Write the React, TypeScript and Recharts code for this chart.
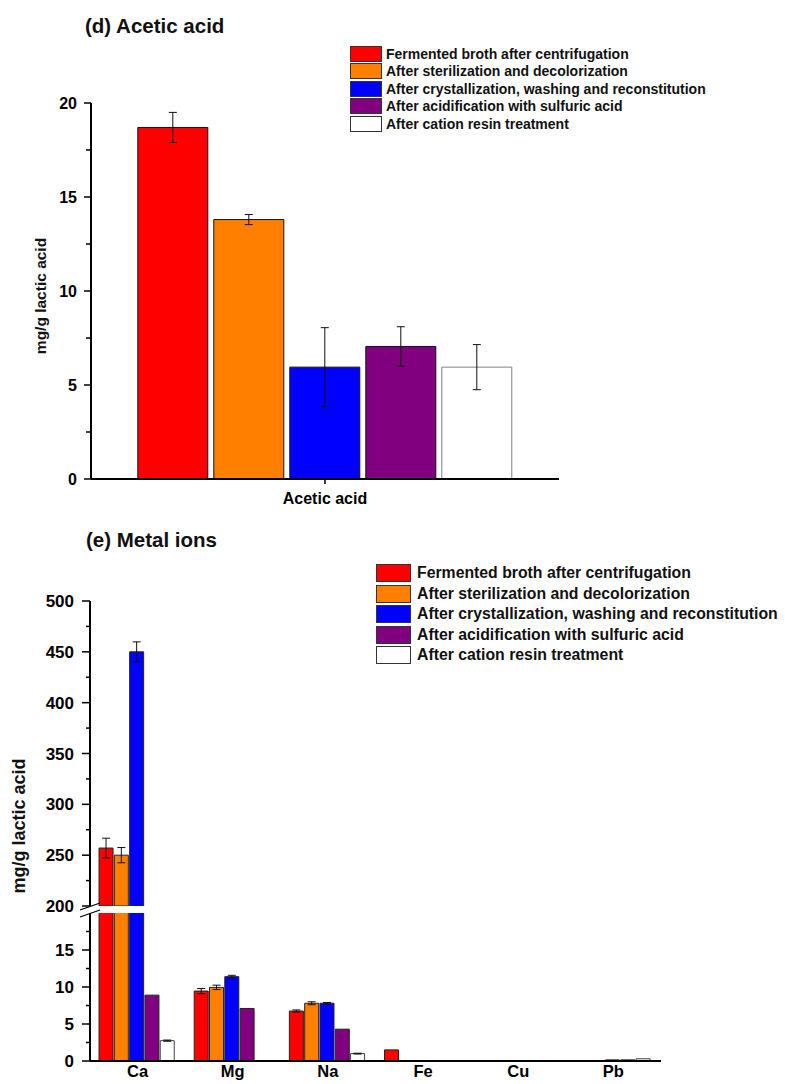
import { Bar, BarChart, ErrorBar, XAxis, YAxis } from "recharts";

// 精製工程ごとの不純物量（酢酸・金属イオン）
// 工程の順番と色は固定

const FONT = '"Liberation Sans", Arial, Helvetica, sans-serif';
const INK = "#000";

const STEPS = [
  "Fermented broth after centrifugation",
  "After sterilization and decolorization",
  "After crystallization, washing and reconstitution",
  "After acidification with sulfuric acid",
  "After cation resin treatment",
];
const FILLS = ["#ff0000", "#ff8000", "#0000ff", "#800080", "#ffffff"];

// ── (d) Acetic acid ──
const ACETIC_CATEGORY = ["Acetic acid"];
const ACETIC_MEAN = [18.7, 13.8, 5.95, 7.05, 5.95];
const ACETIC_SD = [0.8, 0.27, 2.1, 1.05, 1.2];
const ACETIC_TICKS = [0, 2.5, 5, 7.5, 10, 12.5, 15, 17.5, 20];

// ── (e) Metal ions ──
const IONS = ["Ca", "Mg", "Na", "Fe", "Cu", "Pb"];
const BROTH = [257, 9.45, 6.75, 1.5, 0, 0];
const BROTH_SD = [9.7, 0.35, 0.15, 0, 0, 0];
const STERILIZED = [250, 9.95, 7.8, 0, 0, 0];
const STERILIZED_SD = [7.5, 0.3, 0.2, 0, 0, 0];
const CRYSTALLIZED = [450, 11.4, 7.8, 0, 0, 0.15];
const CRYSTALLIZED_SD = [9.8, 0.18, 0.1, 0, 0, 0];
const ACIDIFIED = [8.9, 7.1, 4.3, 0, 0, 0.15];
const ACIDIFIED_SD = [0, 0, 0, 0, 0, 0];
const RESIN = [2.75, 0, 1.0, 0, 0, 0.3];
const RESIN_SD = [0.08, 0, 0.05, 0, 0, 0];

const ION_MEANS = [BROTH, STERILIZED, CRYSTALLIZED, ACIDIFIED, RESIN];
const ION_SDS = [BROTH_SD, STERILIZED_SD, CRYSTALLIZED_SD, ACIDIFIED_SD, RESIN_SD];

// 軸の切れ目（下段 0–20、上段 200–500）
const LOW_DOMAIN: [number, number] = [0, 20];
const HIGH_DOMAIN: [number, number] = [200, 500];
const LOW_TICKS = [0, 2.5, 5, 7.5, 10, 12.5, 15, 17.5];
const HIGH_TICKS = [200, 225, 250, 275, 300, 325, 350, 375, 400, 425, 450, 475, 500];

const aceticRows = ACETIC_CATEGORY.map((name) => {
  const row: Record<string, string | number> = { name };
  ACETIC_MEAN.forEach((v, i) => {
    row[`s${i}`] = v;
    row[`e${i}`] = ACETIC_SD[i];
  });
  return row;
});

const highRows = IONS.map((ion, j) => {
  const row: Record<string, string | number | null> = { ion };
  ION_MEANS.forEach((arr, i) => {
    const v = arr[j];
    row[`s${i}`] = v >= HIGH_DOMAIN[0] ? v : null;
    row[`e${i}`] = v >= HIGH_DOMAIN[0] ? ION_SDS[i][j] : 0;
  });
  return row;
});

const lowRows = IONS.map((ion, j) => {
  const row: Record<string, string | number | null> = { ion };
  ION_MEANS.forEach((arr, i) => {
    const v = arr[j];
    row[`s${i}`] = v;
    row[`e${i}`] = v <= LOW_DOMAIN[1] ? ION_SDS[i][j] : 0;
  });
  return row;
});

// 主目盛りにだけ数値を付ける Y 軸の目盛り
function makeYTick(step: number, fontSize: number, gap: number, major: number, minor: number) {
  return (props: any) => {
    const { x, y, payload } = props;
    const v = Number(payload.value);
    const isMajor = Math.abs(v / step - Math.round(v / step)) < 1e-6;
    return (
      <g>
        <line x1={x - (isMajor ? major : minor)} x2={x} y1={y} y2={y} stroke={INK} strokeWidth={1.5} />
        {isMajor && (
          <text
            x={x - gap}
            y={y}
            dy="0.36em"
            textAnchor="end"
            fontSize={fontSize}
            fontWeight="bold"
            fontFamily={FONT}
            fill={INK}
          >
            {v}
          </text>
        )}
      </g>
    );
  };
}

function StepLegend({
  left,
  top,
  rowHeight,
  boxW,
  boxH,
  gap,
  fontSize,
}: {
  left: number;
  top: number;
  rowHeight: number;
  boxW: number;
  boxH: number;
  gap: number;
  fontSize: number;
}) {
  return (
    <div style={{ position: "absolute", left, top, fontFamily: FONT, fontWeight: "bold", fontSize, color: "#111" }}>
      {STEPS.map((s, i) => (
        <div key={s} style={{ display: "flex", alignItems: "center", height: rowHeight, whiteSpace: "nowrap" }}>
          <span
            style={{
              display: "inline-block",
              width: boxW,
              height: boxH,
              boxSizing: "border-box",
              background: FILLS[i],
              border: "1px solid #333",
              marginRight: gap,
            }}
          />
          <span>{s}</span>
        </div>
      ))}
    </div>
  );
}

const barStroke = (i: number, white: string, dark: string) => (i === FILLS.length - 1 ? white : dark);

function AceticChart() {
  return (
    <BarChart
      width={785}
      height={520}
      data={aceticRows}
      margin={{ top: 103, right: 226, bottom: 11, left: 0 }}
      barCategoryGap="10%"
      barGap={6}
    >
      <XAxis
        dataKey="name"
        height={30}
        axisLine={{ stroke: INK, strokeWidth: 2 }}
        tickLine={{ stroke: INK, strokeWidth: 1.5 }}
        tickSize={5}
        tickMargin={9}
        tick={{ fill: INK, fontSize: 16, fontWeight: "bold", fontFamily: FONT }}
      />
      <YAxis
        type="number"
        domain={[0, 20]}
        ticks={ACETIC_TICKS}
        interval={0}
        width={91}
        axisLine={{ stroke: INK, strokeWidth: 2 }}
        tickLine={false}
        tickSize={0}
        tickMargin={0}
        tick={makeYTick(5, 16, 14, 7, 5)}
      />
      {STEPS.map((s, i) => (
        <Bar
          key={s}
          dataKey={`s${i}`}
          fill={FILLS[i]}
          stroke={barStroke(i, "#808080", "#111")}
          strokeWidth={1}
          isAnimationActive={false}
        >
          <ErrorBar dataKey={`e${i}`} width={4} stroke="#111" strokeWidth={1} isAnimationActive={false} />
        </Bar>
      ))}
    </BarChart>
  );
}

function IonBars() {
  return STEPS.map((s, i) => (
    <Bar
      key={s}
      dataKey={`s${i}`}
      fill={FILLS[i]}
      stroke={barStroke(i, "#444", "#222")}
      strokeWidth={1}
      isAnimationActive={false}
    >
      <ErrorBar dataKey={`e${i}`} width={4} stroke="#111" strokeWidth={1} isAnimationActive={false} />
    </Bar>
  ));
}

function IonHighChart() {
  return (
    <BarChart
      width={785}
      height={400}
      data={highRows}
      margin={{ top: 81, right: 124, bottom: 14, left: 0 }}
      barCategoryGap="9.5%"
      barGap={1.3}
    >
      <XAxis dataKey="ion" hide />
      <YAxis
        type="number"
        domain={HIGH_DOMAIN}
        allowDataOverflow
        ticks={HIGH_TICKS}
        interval={0}
        width={90}
        axisLine={{ stroke: INK, strokeWidth: 2 }}
        tickLine={false}
        tickSize={0}
        tickMargin={0}
        tick={makeYTick(50, 17, 16, 8, 4)}
      />
      {IonBars()}
    </BarChart>
  );
}

function IonLowChart() {
  return (
    <BarChart
      width={785}
      height={184}
      data={lowRows}
      margin={{ top: 13, right: 124, bottom: 0, left: 0 }}
      barCategoryGap="9.5%"
      barGap={1.3}
    >
      <XAxis
        dataKey="ion"
        height={23}
        axisLine={{ stroke: INK, strokeWidth: 2 }}
        tickLine={false}
        tickSize={0}
        tickMargin={4}
        tick={{ fill: INK, fontSize: 16.5, fontWeight: "bold", fontFamily: FONT }}
      />
      <YAxis
        type="number"
        domain={LOW_DOMAIN}
        allowDataOverflow
        ticks={LOW_TICKS}
        interval={0}
        width={90}
        axisLine={{ stroke: INK, strokeWidth: 2 }}
        tickLine={false}
        tickSize={0}
        tickMargin={0}
        tick={makeYTick(5, 17, 16, 8, 4)}
      />
      {IonBars()}
    </BarChart>
  );
}

export default function App() {
  const textProps = { fontFamily: FONT, fontWeight: "bold", fill: "#111" } as const;
  return (
    <div style={{ position: "absolute", left: 0, top: 0, width: 785, height: 1084, background: "#fff", overflow: "hidden" }}>
      <div style={{ position: "absolute", left: 0, top: 0 }}>
        <AceticChart />
      </div>
      <div style={{ position: "absolute", left: 0, top: 520 }}>
        <IonHighChart />
      </div>
      <div style={{ position: "absolute", left: 0, top: 900 }}>
        <IonLowChart />
      </div>

      <svg width={785} height={1084} style={{ position: "absolute", left: 0, top: 0, pointerEvents: "none" }}>
        <text x={85} y={33} fontSize={20.5} {...textProps}>
          (d) Acetic acid
        </text>
        <text
          x={0}
          y={0}
          transform="translate(41 296) rotate(-90)"
          textAnchor="middle"
          dy="0.35em"
          fontSize={15.5}
          {...textProps}
        >
          mg/g lactic acid
        </text>

        <text x={86} y={547} fontSize={20.5} {...textProps}>
          (e) Metal ions
        </text>
        <text
          x={0}
          y={0}
          transform="translate(19 826) rotate(-90)"
          textAnchor="middle"
          dy="0.35em"
          fontSize={18}
          {...textProps}
        >
          mg/g lactic acid
        </text>

        {/* 軸の切れ目 */}
        <line x1={80} y1={910} x2={100} y2={903} stroke={INK} strokeWidth={1.3} />
        <line x1={80} y1={917} x2={100} y2={910} stroke={INK} strokeWidth={1.3} />
      </svg>

      <StepLegend left={350} top={45} rowHeight={17.5} boxW={32} boxH={16} gap={4} fontSize={14} />
      <StepLegend left={376} top={563} rowHeight={20.5} boxW={35} boxH={18} gap={6} fontSize={15.8} />
    </div>
  );
}
